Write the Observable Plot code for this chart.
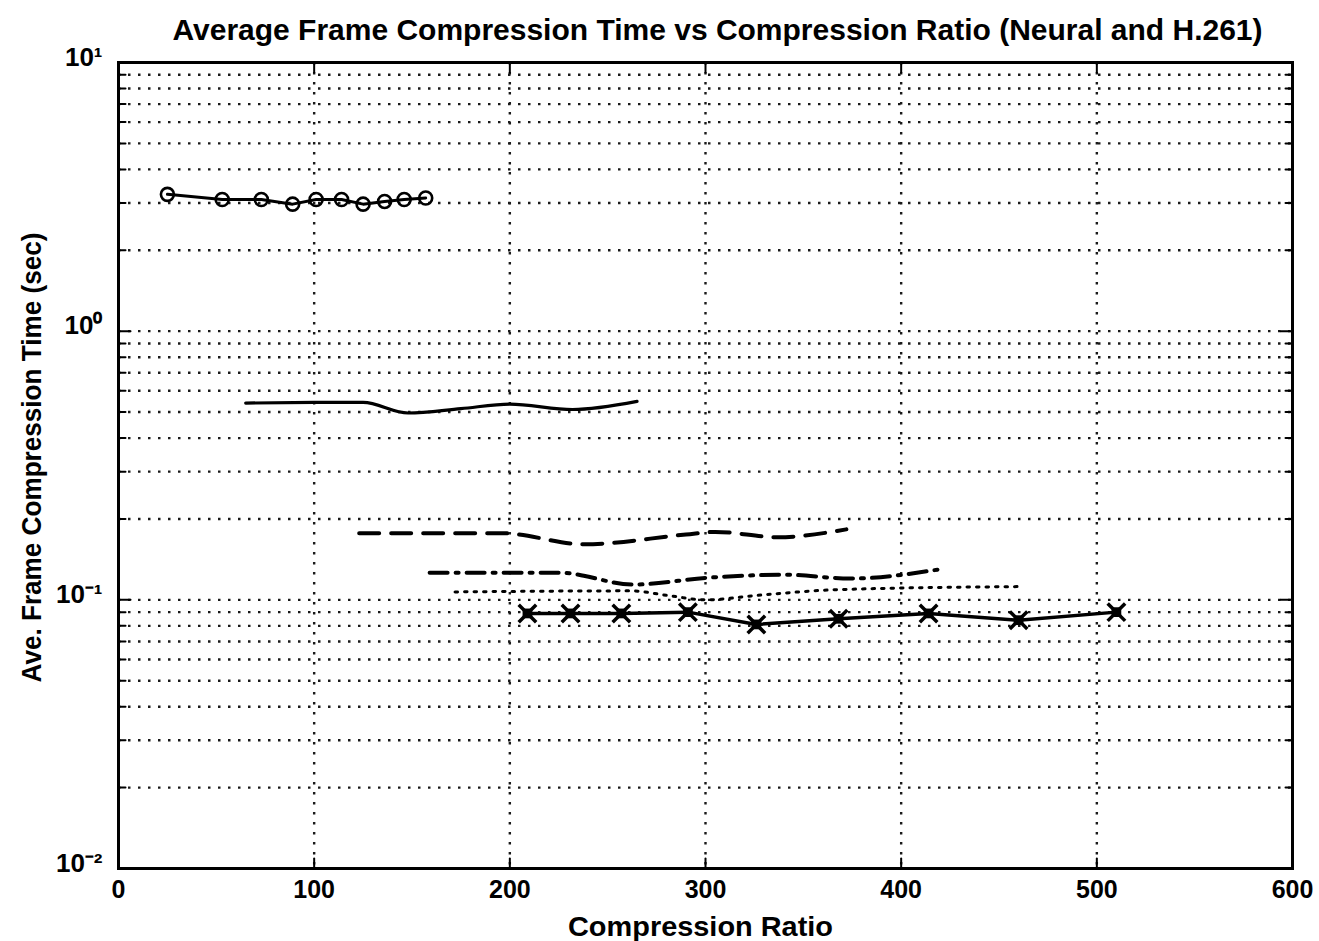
<!DOCTYPE html>
<html><head><meta charset="utf-8">
<script src="https://cdn.jsdelivr.net/npm/d3@7"></script>
<script src="https://cdn.jsdelivr.net/npm/@observablehq/plot@0.6"></script>
<style>body{margin:0;background:#fff} #chart{width:1319px;height:941px}</style>
</head><body><div id="chart"></div>
<script>
// ---- data ----
const titleText = "Average Frame Compression Time vs Compression Ratio (Neural and H.261)";
const xLabelText = "Compression Ratio";
const yLabelText = "Ave. Frame Compression Time (sec)";

const xDomain = [0, 600];
const yDomain = [0.01, 10];
const xTicks = [0, 100, 200, 300, 400, 500, 600];
const xGrid = [100, 200, 300, 400, 500];
const yMajor = [0.01, 0.1, 1, 10];
const yTickLabels = ["10\u207B\u00B2", "10\u207B\u00B9", "10\u2070", "10\u00B9"];
const yGrid = [0.02, 0.03, 0.04, 0.05, 0.06, 0.07, 0.08, 0.09, 0.1,
               0.2, 0.3, 0.4, 0.5, 0.6, 0.7, 0.8, 0.9, 1,
               2, 3, 4, 5, 6, 7, 8, 9];
const yMinor = [0.02, 0.03, 0.04, 0.05, 0.06, 0.07, 0.08, 0.09,
                0.2, 0.3, 0.4, 0.5, 0.6, 0.7, 0.8, 0.9,
                2, 3, 4, 5, 6, 7, 8, 9];

// series 1: solid line with circles
const circleRatio = [25, 53, 73, 89, 101, 114, 125, 136, 146, 157];
const circleTime  = [3.23, 3.09, 3.09, 2.97, 3.09, 3.09, 2.97, 3.04, 3.09, 3.13];
// series 2: solid line
const solidRatio = [65, 100, 125, 148, 175, 200, 232, 265];
const solidTime  = [0.54, 0.543, 0.543, 0.496, 0.515, 0.535, 0.511, 0.548];
// series 3: dashed
const dashRatio = [123, 196, 238, 290, 305, 337, 372];
const dashTime  = [0.177, 0.177, 0.161, 0.175, 0.179, 0.171, 0.183];
// series 4: dash-dot
const dashDotRatio = [159, 226, 263, 302, 341, 374, 420];
const dashDotTime  = [0.126, 0.126, 0.114, 0.121, 0.124, 0.12, 0.13];
// series 5: dotted
const dotRatio = [172, 262, 280, 300, 327, 366, 460];
const dotTime  = [0.107, 0.108, 0.104, 0.1, 0.104, 0.109, 0.112];
// series 6: solid line with x markers (H.261)
const xmarkRatio = [209, 231, 257, 291, 326, 368, 414, 460, 510];
const xmarkTime  = [0.089, 0.089, 0.089, 0.09, 0.081, 0.085, 0.089, 0.084, 0.09];

const pts = (xs, ys) => xs.map((x, i) => ({x, y: ys[i]}));
const circles = pts(circleRatio, circleTime);
const solid = pts(solidRatio, solidTime);
const dashed = pts(dashRatio, dashTime);
const dashDot = pts(dashDotRatio, dashDotTime);
const dotted = pts(dotRatio, dotTime);
const xmarks = pts(xmarkRatio, xmarkTime);

const font = '"Liberation Sans Narrow","Liberation Sans",Arial,Helvetica,sans-serif';
const tickShape = {draw(ctx, l) { ctx.moveTo(0, 0); ctx.lineTo(0, -l); }};
const gridStyle = {stroke: "#1a1a1a", strokeWidth: 2.4, strokeDasharray: "2.5,7.5"};
const tickStyle = {shape: tickShape, anchor: "start", strokeWidth: 2, stroke: "#000"};

const chart = Plot.plot({
  width: 1319, height: 941,
  marginLeft: 118, marginRight: 27, marginTop: 62, marginBottom: 73,
  style: {fontFamily: font, background: "#fff", color: "#000"},
  x: {domain: xDomain},
  y: {type: "log", domain: yDomain},
  marks: [
    Plot.ruleY(yGrid, gridStyle),
    Plot.ruleX(xGrid, gridStyle),
    // inner ticks (MATLAB style)
    Plot.vector(xGrid, {...tickStyle, x: d => d, y: () => yDomain[0], length: 10, rotate: 0}),
    Plot.vector(xGrid, {...tickStyle, x: d => d, y: () => yDomain[1], length: 10, rotate: 180}),
    Plot.vector(yMajor, {...tickStyle, x: () => xDomain[0], y: d => d, length: 12, rotate: 90}),
    Plot.vector(yMajor, {...tickStyle, x: () => xDomain[1], y: d => d, length: 12, rotate: -90}),
    Plot.vector(yMinor, {...tickStyle, x: () => xDomain[0], y: d => d, length: 7, rotate: 90}),
    Plot.vector(yMinor, {...tickStyle, x: () => xDomain[1], y: d => d, length: 7, rotate: -90}),
    Plot.frame({stroke: "#000", strokeWidth: 3}),
    Plot.axisX(xTicks, {tickSize: 0, tickPadding: 12, fontSize: 25, fontWeight: "bold", label: null}),
    Plot.axisY(yMajor, {tickSize: 0, tickPadding: 16, fontSize: 26, fontWeight: "bold", label: null, dy: -5,
      tickFormat: d => yTickLabels[yMajor.indexOf(d)]}),
    // series
    Plot.line(circles, {x: "x", y: "y", stroke: "#000", strokeWidth: 3}),
    Plot.dot(circles, {x: "x", y: "y", r: 6.5, stroke: "#000", strokeWidth: 2.6, fill: "none"}),
    Plot.line(solid, {x: "x", y: "y", stroke: "#000", strokeWidth: 3.2, curve: "monotone-x"}),
    Plot.line(dashed, {x: "x", y: "y", stroke: "#000", strokeWidth: 4, strokeDasharray: "20,12", curve: "monotone-x"}),
    Plot.line(dashDot, {x: "x", y: "y", stroke: "#000", strokeWidth: 4, strokeDasharray: "18,8,3,8", curve: "monotone-x"}),
    Plot.line(dotted, {x: "x", y: "y", stroke: "#000", strokeWidth: 3, strokeDasharray: "2.5,7", curve: "monotone-x"}),
    Plot.line(xmarks, {x: "x", y: "y", stroke: "#000", strokeWidth: 3.5}),
    Plot.dot(xmarks, {x: "x", y: "y", symbol: "square", r: 5.5, fill: "#000"}),
    Plot.dot(xmarks, {x: "x", y: "y", symbol: "times", r: 8, stroke: "#000", strokeWidth: 3.5}),
    // titles
    Plot.text([titleText], {frameAnchor: "top", lineAnchor: "middle", textAnchor: "middle", text: d => d, dy: -32, dx: 12, fontSize: 30, fontWeight: "bold"}),
    Plot.text([xLabelText], {frameAnchor: "bottom", lineAnchor: "middle", textAnchor: "middle", text: d => d, dy: 59, dx: -5, fontSize: 28, fontWeight: "bold"}),
    Plot.text([yLabelText], {frameAnchor: "left", lineAnchor: "middle", textAnchor: "middle", text: d => d, dx: -86, dy: -8, rotate: -90, fontSize: 28, fontWeight: "bold"})
  ]
});
document.getElementById("chart").appendChild(chart);

const fit = {[titleText]: 1090, [xLabelText]: 265, [yLabelText]: 450};
d3.select(chart).selectAll("text").each(function() {
  const t = this.textContent;
  if (fit[t]) d3.select(this).attr("textLength", fit[t]).attr("lengthAdjust", "spacingAndGlyphs");
});
</script>
</body></html>
